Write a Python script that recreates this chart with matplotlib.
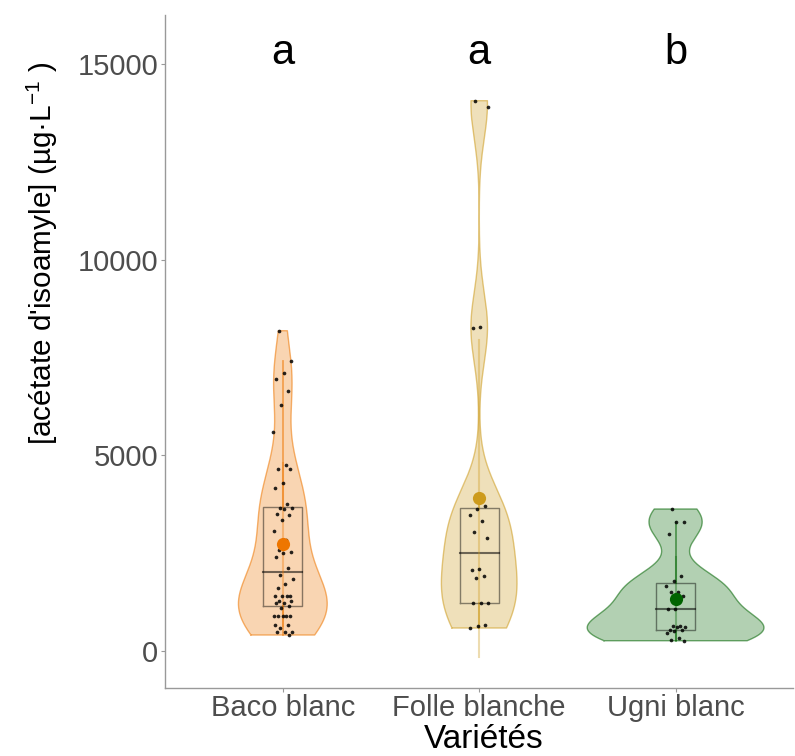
import numpy as np
import matplotlib
matplotlib.use("Agg")
import matplotlib.pyplot as plt

plt.rcParams['font.family'] = ['Liberation Sans', 'DejaVu Sans']
plt.rcParams['mathtext.fontset'] = 'custom'
plt.rcParams['mathtext.rm'] = 'Liberation Sans'
plt.rcParams['mathtext.it'] = 'Liberation Sans:italic'
plt.rcParams['mathtext.default'] = 'regular'

categories = ["Baco blanc", "Folle blanche", "Ugni blanc"]
colors = ["#EE7600", "#CD9B1D", "#006400"]
letters = ["a", "a", "b"]

baco = [8185, 7411, 7113, 6951, 6652, 6287, 5605, 4753, 4651, 4651, 4285, 4174,
        3757, 3642, 3642, 3629, 3514, 3476, 3348, 3059, 2837, 2581, 2522, 2496,
        2410, 2113, 1934, 1832, 1720, 1618, 1406, 1406, 1406, 1398, 1278, 1278,
        1227, 1227, 1150, 1107, 894, 894, 894, 894, 902, 664, 664, 579, 498, 498,
        478, 409]
folle = [14063, 13910, 8288, 8246, 3697, 3637, 3484, 3314, 3033, 2900, 2088,
         2070, 1917, 1858, 1234, 1234, 1234, 664, 639, 588]
ugni = [3629, 3302, 3305, 2990, 1917, 1798, 1661, 1520, 1520, 1414, 1082, 1082,
        647, 647, 613, 613, 537, 545, 511, 468, 340, 273, 263]
data = [baco, folle, ugni]

yticks = [0, 5000, 10000, 15000]


def nrd0(x):
    x = np.asarray(x, float)
    sd = x.std(ddof=1)
    iqr = np.subtract(*np.percentile(x, [75, 25]))
    lo = min(sd, iqr / 1.34)
    return 0.9 * lo * len(x) ** (-0.2)


def kde(x, grid):
    x = np.asarray(x, float)
    bw = nrd0(x)
    z = (grid[:, None] - x[None, :]) / bw
    return np.exp(-0.5 * z ** 2).sum(axis=1) / (len(x) * bw * np.sqrt(2 * np.pi))


fig = plt.figure(figsize=(7.95, 7.56), dpi=100)
ax = fig.add_axes([165 / 795, 1 - 688 / 756, 1 - 165 / 795 - 0.002, (688 - 15) / 756])

grids, dens = [], []
for d in data:
    g = np.linspace(min(d), max(d), 512)
    grids.append(g)
    dens.append(kde(d, g))
dmax = max(dd.max() for dd in dens)

for i, (d, col) in enumerate(zip(data, colors)):
    pos = i + 1
    d = np.asarray(d, float)
    hw = 0.45 * dens[i] / dmax
    ax.fill_betweenx(grids[i], pos - hw, pos + hw, facecolor=col, alpha=0.3,
                     edgecolor='none', zorder=1)
    ax.plot(np.r_[pos - hw, (pos + hw)[::-1], pos - hw[0]],
            np.r_[grids[i], grids[i][::-1], grids[i][0]],
            color=col, alpha=0.55, lw=1.0, zorder=2)

    q1, med, q3 = np.percentile(d, [25, 50, 75])
    iqr = q3 - q1
    up = d[d <= q3 + 1.5 * iqr].max()
    lo = d[d >= q1 - 1.5 * iqr].min()
    mean = d.mean()
    sd = d.std(ddof=1)

    ax.plot([pos, pos], [q3, up], color=col, alpha=0.55, lw=1.3, zorder=3)
    ax.plot([pos, pos], [lo, q1], color=col, alpha=0.55, lw=1.3, zorder=3)
    bw = 0.1
    ax.plot([pos - bw, pos + bw, pos + bw, pos - bw, pos - bw],
            [q1, q1, q3, q3, q1], color='black', alpha=0.45, lw=1.0, zorder=4)
    ax.plot([pos - bw, pos + bw], [med, med], color='black', alpha=0.55, lw=1.5, zorder=4)
    ax.plot([pos, pos], [mean - sd, mean + sd], color=col, alpha=0.35, lw=1.5, zorder=4)

    n = len(d)
    offs = ((np.arange(n) * 0.6180339887 + 0.31) % 1 - 0.5) * 0.1
    ax.scatter(pos + offs, d, s=7, color='black', alpha=0.85, zorder=5, linewidths=0)
    ax.scatter([pos], [mean], s=90, color=col, zorder=6, linewidths=0)

    ax.text(pos, 15000, letters[i], ha='center', va='baseline', fontsize=30, color='black')

ax.set_xlim(0.4, 3.6)
ax.set_ylim(-945, 16253)
ax.set_xticks([1, 2, 3])
ax.set_xticklabels(categories)
ax.set_yticks(yticks)
ax.set_yticklabels([str(t) for t in yticks])
ax.tick_params(axis='both', labelsize=21, labelcolor='#4d4d4d', color='#999999',
               length=3, width=0.8, pad=2)
ax.tick_params(axis='x', pad=1)
for s in ['top', 'right']:
    ax.spines[s].set_visible(False)
for s in ['left', 'bottom']:
    ax.spines[s].set_color('#999999')
    ax.spines[s].set_linewidth(1.0)

fig.text(484 / 795, 1 - 748 / 756, "Variétés", ha='center', va='baseline',
         fontsize=24, color='black')
ylab = fig.text(42 / 795, 1 - 253 / 756, r"[acétate d'isoamyle] (µg·L$^{-1}$ )",
                ha='center', va='center', rotation=90, fontsize=28, color='black')
fig.canvas.draw()
h = ylab.get_window_extent().height
ylab.set_fontsize(28 * 383 / h)

fig.savefig("out.png", dpi=100)
